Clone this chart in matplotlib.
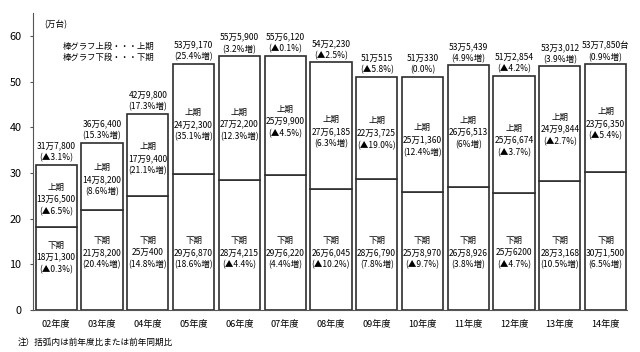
import matplotlib
matplotlib.use("Agg")
import matplotlib.pyplot as plt
import numpy as np

plt.rcParams['font.family'] = ['Noto Sans CJK JP', 'DejaVu Sans']

# データ（万台）
years = ["02年度", "03年度", "04年度", "05年度", "06年度", "07年度", "08年度",
         "09年度", "10年度", "11年度", "12年度", "13年度", "14年度"]
lower = [18.13, 21.82, 25.04, 29.687, 28.4215, 29.622, 26.6045,
         28.679, 25.897, 26.8926, 25.62, 28.3168, 30.15]
upper = [13.65, 14.82, 17.94, 24.23, 27.22, 25.99, 27.6185,
         22.3725, 25.136, 26.6513, 25.6674, 24.9844, 23.635]
total = [31.78, 36.64, 42.98, 53.917, 55.59, 55.612, 54.223,
         51.0515, 51.033, 53.5439, 51.2854, 53.3012, 53.785]

total_txt = ["31万7,800", "36万6,400", "42万9,800", "53万9,170", "55万5,900",
             "55万6,120", "54万2,230", "51万515", "51万330", "53万5,439",
             "51万2,854", "53万3,012", "53万7,850台"]
total_pct = ["(▲3.1%)", "(15.3%増)", "(17.3%増)", "(25.4%増)", "(3.2%増)",
             "(▲0.1%)", "(▲2.5%)", "(▲5.8%)", "(0.0%)", "(4.9%増)",
             "(▲4.2%)", "(3.9%増)", "(0.9%増)"]
upper_txt = ["13万6,500", "14万8,200", "17万9,400", "24万2,300", "27万2,200",
             "25万9,900", "27万6,185", "22万3,725", "25万1,360", "26万6,513",
             "25万6,674", "24万9,844", "23万6,350"]
upper_pct = ["(▲6.5%)", "(8.6%増)", "(21.1%増)", "(35.1%増)", "(12.3%増)",
             "(▲4.5%)", "(6.3%増)", "(▲19.0%)", "(12.4%増)", "(6%増)",
             "(▲3.7%)", "(▲2.7%)", "(▲5.4%)"]
lower_txt = ["18万1,300", "21万8,200", "25万400", "29万6,870", "28万4,215",
             "29万6,220", "26万6,045", "28万6,790", "25万8,970", "26万8,926",
             "25万6200", "28万3,168", "30万1,500"]
lower_pct = ["(▲0.3%)", "(20.4%増)", "(14.8%増)", "(18.6%増)", "(▲4.4%)",
             "(4.4%増)", "(▲10.2%)", "(7.8%増)", "(▲9.7%)", "(3.8%増)",
             "(▲4.7%)", "(10.5%増)", "(6.5%増)"]

x = np.arange(len(years))
fs = 6.1

fig = plt.figure(figsize=(6.4, 3.52), dpi=100)
ax = fig.add_axes([0.052, 0.119, 0.928, 0.844])

ax.bar(x, lower, width=0.9, color="white", edgecolor="#2e2e2e", linewidth=1.2)
ax.bar(x, upper, bottom=lower, width=0.9, color="white", edgecolor="#2e2e2e", linewidth=1.2)

for i in range(len(years)):
    # 合計
    ax.text(x[i], total[i] + 0.5, total_txt[i] + "\n" + total_pct[i],
            ha="center", va="bottom", fontsize=fs, linespacing=1.4)
    # 上期
    yu = lower[i] + upper[i] * 0.45
    ax.text(x[i], yu, "上期\n" + upper_txt[i] + "\n" + upper_pct[i],
            ha="center", va="center", fontsize=fs, linespacing=1.45)
    # 下期
    yl = min(lower[i] / 2 + 2.5, 12.5)
    ax.text(x[i], yl, "下期\n" + lower_txt[i] + "\n" + lower_pct[i],
            ha="center", va="center", fontsize=fs, linespacing=1.45)

ax.set_xlim(-0.5, 12.47)
ax.set_ylim(0, 65)
ax.set_yticks([0, 10, 20, 30, 40, 50, 60])
ax.set_xticks(x)
ax.set_xticklabels(years, fontsize=6.6)
ax.tick_params(axis="y", labelsize=7.8, length=2.5, width=0.8, color="#555555", pad=6)
ax.tick_params(axis="x", length=0, pad=7)
ax.spines["top"].set_visible(False)
ax.spines["right"].set_visible(False)
ax.spines["left"].set_color("#555555")
ax.spines["bottom"].set_color("#555555")

ax.text(-0.25, 62.5, "(万台)", fontsize=6.2, va="center")
ax.text(0.15, 56.5, "棒グラフ上段・・・上期\n棒グラフ下段・・・下期",
        fontsize=6.0, va="center", linespacing=1.4)

fig.text(0.027, 0.02, "注）括弧内は前年度比または前年同期比", fontsize=6.2)

fig.savefig("out.png", dpi=100)
